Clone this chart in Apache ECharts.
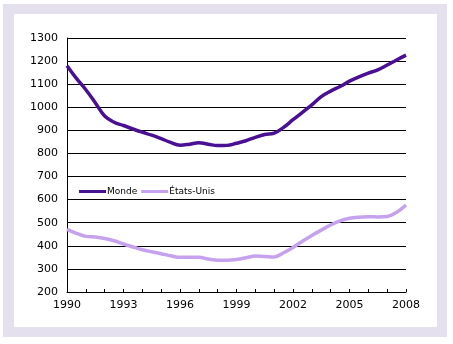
<!DOCTYPE html>
<html><head><meta charset="utf-8">
<script src="https://cdn.jsdelivr.net/npm/echarts@6/dist/echarts.min.js"></script>
<style>
html,body{margin:0;padding:0;background:#fff;}
#frame{position:absolute;left:3px;top:4px;width:444px;height:333px;background:#e4e0ee;}
#inner{position:absolute;left:14px;top:14px;width:423px;height:313px;background:#fff;}
#chart{position:absolute;left:0;top:0;width:453px;height:344px;}
</style></head>
<body>
<div id="frame"></div><div id="inner"></div>
<div id="chart"></div>
<script>
const years = [1990,1990.5,1991,1991.5,1992,1992.5,1993,1993.5,1994,1994.5,1995,1995.5,1996,1996.5,1997,1997.5,1998,1998.5,1999,1999.5,2000,2000.5,2001,2001.5,2002,2002.5,2003,2003.5,2004,2004.5,2005,2005.5,2006,2006.5,2007,2007.5,2008];
const monde = [1180,1125,1076,1020,962,935,921,906,892,879,864,848,836,840,846,840,834,835,844,855,870,882,888,913,946,978,1010,1046,1070,1090,1113,1132,1148,1162,1183,1205,1226];
const etatsUnis = [471,454,441,438,432,422,408,395,383,374,366,357,350,350,350,343,338,338,341,348,356,354,352,370,393,420,445,468,490,508,519,524,526,525,527,545,577];
const seriesNames = ['Monde','États-Unis'];
const yTicks = {min:200,max:1300,step:100};
const xTicks = {min:1990,max:2008,step:1,labelEvery:3};

const pair = (vals) => years.map((y,i)=>[y,vals[i]]);
const chart = echarts.init(document.getElementById('chart'));
const font = 'DejaVu Sans, Verdana, sans-serif';
chart.setOption({
  animation:false,
  backgroundColor:'transparent',
  grid:{left:67,right:47,top:38,bottom:52,containLabel:false},
  legend:{
    left:74,top:182,icon:'rect',itemWidth:27,itemHeight:3,itemGap:4,
    textStyle:{fontFamily:font,fontSize:9,color:'#000',padding:[0,0,0,-4]},
    data:seriesNames
  },
  xAxis:{
    type:'value',min:xTicks.min,max:xTicks.max,interval:xTicks.step,
    axisLine:{lineStyle:{color:'#000',width:1}},
    axisTick:{inside:true,length:3,lineStyle:{color:'#000'}},
    splitLine:{show:false},
    axisLabel:{fontFamily:font,fontSize:11,color:'#000',margin:8,
      formatter:(v)=> ((v - xTicks.min) % xTicks.labelEvery === 0) ? String(v) : ''}
  },
  yAxis:{
    type:'value',min:yTicks.min,max:yTicks.max,interval:yTicks.step,
    axisLine:{show:true,lineStyle:{color:'#000',width:1}},
    axisTick:{show:false},
    splitLine:{show:true,lineStyle:{color:'#000',width:1}},
    axisLabel:{fontFamily:font,fontSize:11,color:'#000',margin:9,formatter:(v)=>String(v)}
  },
  series:[
    {name:seriesNames[0],type:'line',smooth:0.4,showSymbol:false,symbol:'none',
     data:pair(monde),lineStyle:{color:'#4a1093',width:3.5},itemStyle:{color:'#4a1093'}},
    {name:seriesNames[1],type:'line',smooth:0.4,showSymbol:false,symbol:'none',
     data:pair(etatsUnis),lineStyle:{color:'#c6a2ee',width:3.5},itemStyle:{color:'#c6a2ee'}}
  ]
});
</script>
</body></html>
